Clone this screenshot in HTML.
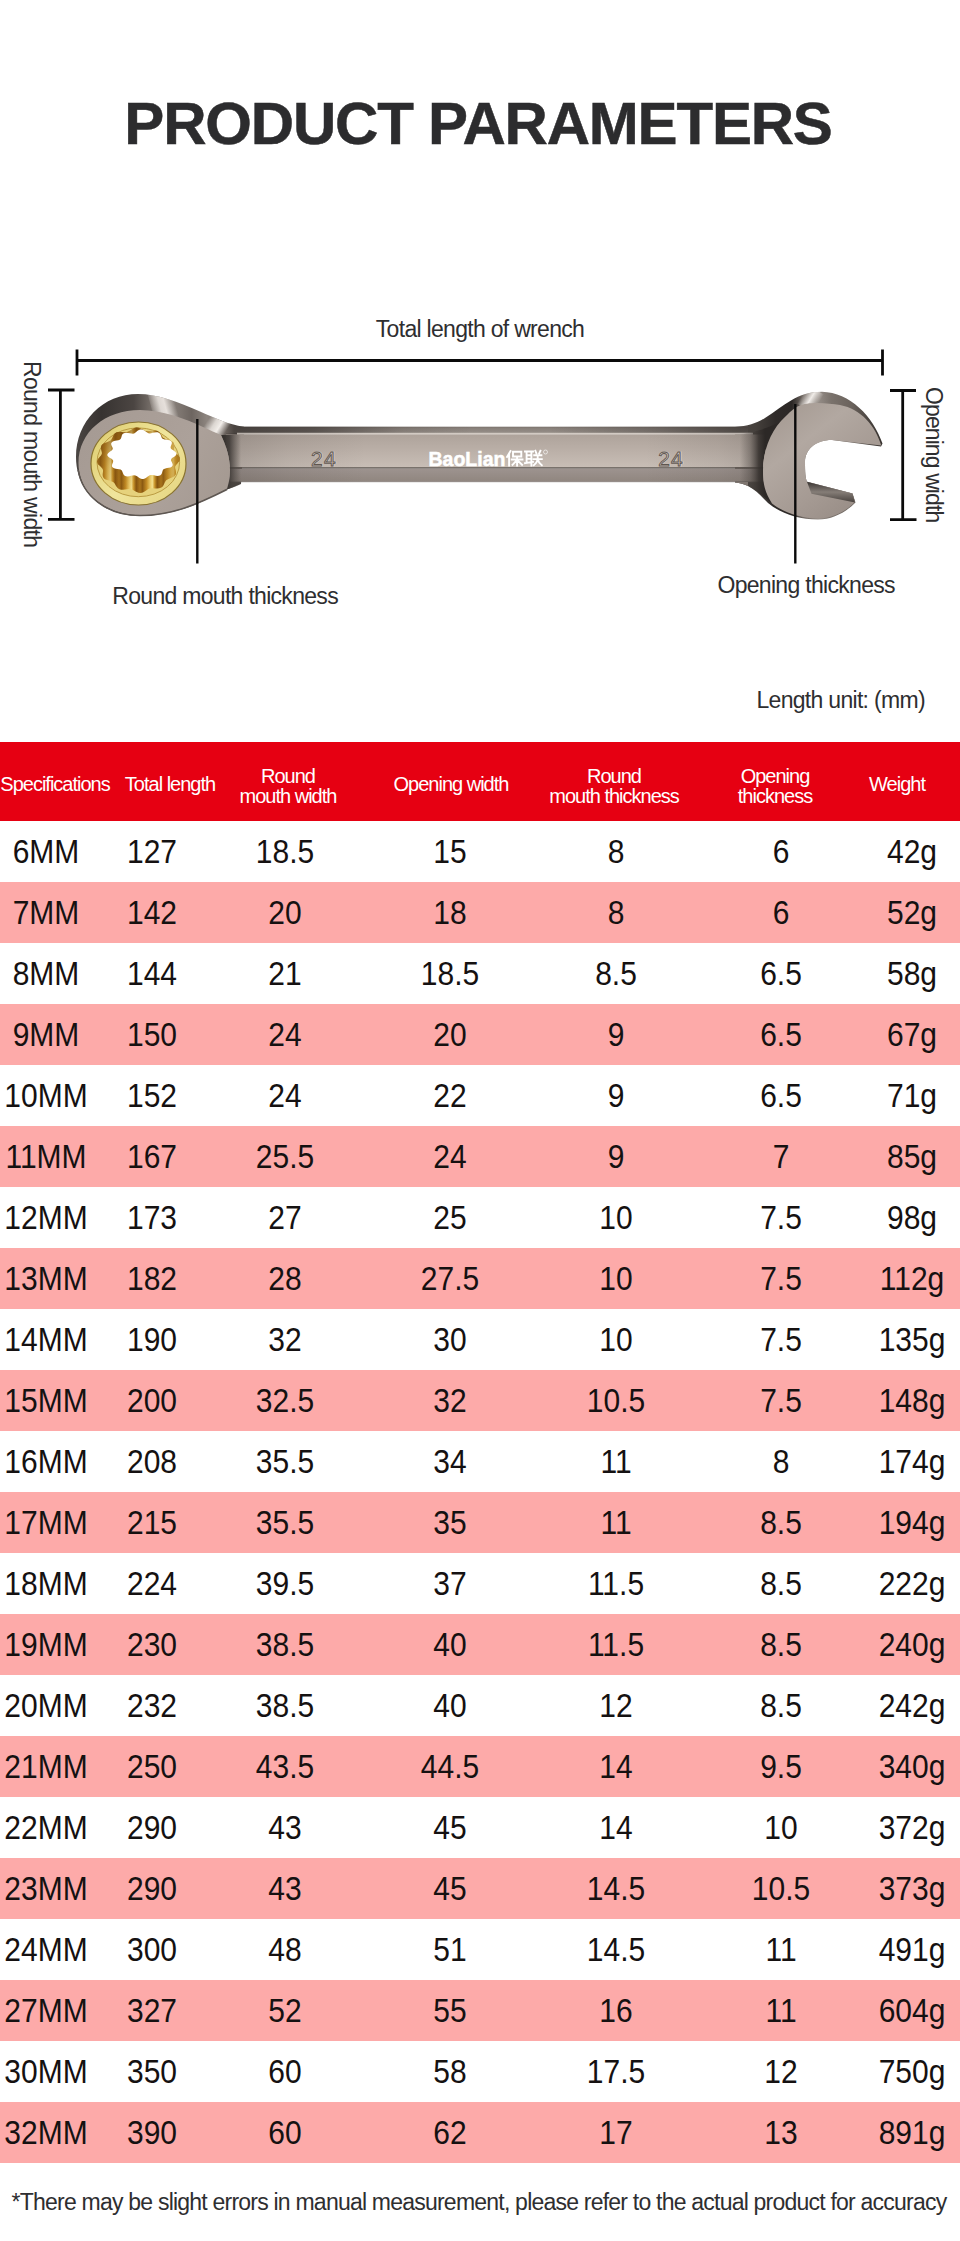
<!DOCTYPE html>
<html lang="en">
<head>
<meta charset="utf-8">
<title>Product Parameters</title>
<style>
html,body{margin:0;padding:0;background:#fff;}
body{width:960px;height:2241px;overflow:hidden;font-family:"Liberation Sans",sans-serif;color:#2b2b2d;}
#page{position:relative;width:960px;height:2241px;overflow:hidden;background:#fff;}
.title{position:absolute;left:-2px;top:89px;width:960px;margin:0;text-align:center;font-size:60px;line-height:70px;font-weight:bold;color:#2c2c2e;letter-spacing:-1.2px;white-space:nowrap;-webkit-text-stroke:0.5px #2c2c2e;}
.diagram{position:absolute;left:0;top:300px;width:960px;height:340px;}
.diagram svg{position:absolute;left:0;top:0;}
.lbl{position:absolute;font-size:23px;line-height:26px;color:#2e2e30;white-space:nowrap;letter-spacing:-0.7px;}
.l-total{left:280px;width:400px;text-align:center;top:16px;}
.l-rmt{left:112.3px;top:283px;}
.l-ot{left:717.5px;top:272px;}
.vert{transform-origin:0 0;transform:rotate(90deg);}
.l-rmw{left:45px;top:60.8px;}
.l-ow{left:946.5px;top:86.6px;letter-spacing:-0.9px;}
.l-unit{left:756.5px;top:687px;}
.tbl{position:absolute;left:0;top:742px;width:960px;}
.hd{position:relative;height:79px;background:#e60012;color:#fff;}
.h{position:absolute;top:31.5px;display:block;font-size:20px;line-height:20px;letter-spacing:-1px;text-align:center;white-space:nowrap;transform:translateX(-50%);}
.h1{left:55px}.h2{left:170px}.h3{left:288px}.h4{left:451px}.h5{left:614px}.h6{left:775px}.h7{left:897px}
.r{position:relative;height:61px;background:#fff;}
.r.p{background:#fdaaa9;}
.c{position:absolute;top:0;height:61px;line-height:61px;font-size:30px;color:#151111;text-align:center;white-space:nowrap;transform:translateX(-50%) scaleY(1.1);}
.c1{left:46px}.c2{left:152px}.c3{left:285px}.c4{left:450px}.c5{left:616px}.c6{left:781px}.c7{left:912px}
.note{position:absolute;left:-1px;top:2189px;width:960px;margin:0;text-align:center;font-size:23px;line-height:26px;color:#2e2e30;letter-spacing:-0.78px;white-space:nowrap;}
.h.two{top:23.5px;}

</style>
</head>
<body>
<div id="page">
<h1 class="title">PRODUCT PARAMETERS</h1>

<section class="diagram">
<svg width="960" height="340" viewBox="0 300 960 340">
<defs>
<linearGradient id="gFace" x1="0" y1="0" x2="0" y2="1">
<stop offset="0" stop-color="#aea39b"/><stop offset="0.5" stop-color="#bbb0a8"/><stop offset="1" stop-color="#c8beb6"/>
</linearGradient>
<linearGradient id="gBevT" x1="0" y1="0" x2="0" y2="1">
<stop offset="0" stop-color="#7a726c"/><stop offset="0.3" stop-color="#8a827c"/><stop offset="1" stop-color="#968e88"/>
</linearGradient>
<linearGradient id="gBevB" x1="0" y1="0" x2="0" y2="1">
<stop offset="0" stop-color="#9d938f"/><stop offset="1" stop-color="#90867f"/>
</linearGradient>
<linearGradient id="gEnds" gradientUnits="userSpaceOnUse" x1="235" y1="0" x2="760" y2="0">
<stop offset="0" stop-color="#2a2523" stop-opacity="0.16"/>
<stop offset="0.1" stop-color="#2a2523" stop-opacity="0.07"/>
<stop offset="0.25" stop-color="#2a2523" stop-opacity="0"/>
<stop offset="0.78" stop-color="#2a2523" stop-opacity="0"/>
<stop offset="0.92" stop-color="#2a2523" stop-opacity="0.07"/>
<stop offset="1" stop-color="#2a2523" stop-opacity="0.16"/>
</linearGradient>
<linearGradient id="gTopEnds" gradientUnits="userSpaceOnUse" x1="235" y1="0" x2="760" y2="0">
<stop offset="0" stop-color="#2a2523" stop-opacity="0.7"/>
<stop offset="0.15" stop-color="#2a2523" stop-opacity="0.55"/>
<stop offset="0.32" stop-color="#2a2523" stop-opacity="0.12"/>
<stop offset="0.45" stop-color="#2a2523" stop-opacity="0"/>
<stop offset="0.6" stop-color="#2a2523" stop-opacity="0"/>
<stop offset="0.8" stop-color="#2a2523" stop-opacity="0.3"/>
<stop offset="0.92" stop-color="#2a2523" stop-opacity="0.55"/>
<stop offset="1" stop-color="#2a2523" stop-opacity="0.7"/>
</linearGradient>
<linearGradient id="gRingSide" gradientUnits="userSpaceOnUse" x1="76" y1="0" x2="246" y2="0">
<stop offset="0" stop-color="#4b4643"/>
<stop offset="0.15" stop-color="#373331"/>
<stop offset="0.34" stop-color="#4b4542"/>
<stop offset="0.46" stop-color="#7d756f"/>
<stop offset="0.56" stop-color="#8a827c"/>
<stop offset="0.68" stop-color="#6d6560"/>
<stop offset="0.77" stop-color="#8d857f"/>
<stop offset="0.88" stop-color="#6a625d"/>
<stop offset="0.93" stop-color="#4a4440"/>
<stop offset="1" stop-color="#47413e"/>
</linearGradient>
<linearGradient id="gHl1" gradientUnits="userSpaceOnUse" x1="149.500" y1="407.500" x2="174.500" y2="400.500">
<stop offset="0" stop-color="#e0dad5" stop-opacity="0"/><stop offset="0.4" stop-color="#e2dcd7" stop-opacity="0.95"/><stop offset="0.6" stop-color="#e6e0db" stop-opacity="1"/><stop offset="1" stop-color="#e0dad5" stop-opacity="0"/>
</linearGradient>
<linearGradient id="gHl2" gradientUnits="userSpaceOnUse" x1="207.500" y1="420.200" x2="225.900" y2="431.800">
<stop offset="0" stop-color="#e6e1dc" stop-opacity="0"/><stop offset="0.35" stop-color="#e6e1dc" stop-opacity="0.9"/><stop offset="0.62" stop-color="#f2eeea" stop-opacity="1"/><stop offset="1" stop-color="#e6e1dc" stop-opacity="0"/>
</linearGradient>
<linearGradient id="gHl3" gradientUnits="userSpaceOnUse" x1="802.700" y1="394.200" x2="818.300" y2="403.800">
<stop offset="0" stop-color="#ebe6e2" stop-opacity="0"/><stop offset="0.5" stop-color="#f0ece8" stop-opacity="1"/><stop offset="1" stop-color="#ebe6e2" stop-opacity="0"/>
</linearGradient>
<clipPath id="cRing"><path d="M76,457 C76,421 103,394 138,394 C158,394 178,402 200,411.500 C215,418 228,424.500 244,426.700 L244,436 L241,484 L76,520Z"/></clipPath>
<clipPath id="cOpen"><path d="M735,427 C748,426.500 757,423 765,418 C775,411.500 783,405 791,400.500 C800,395 810,391.700 822,391.700 C850,392.500 873,416 882.500,443.500 L881,446.500 L735,446Z"/></clipPath>
<linearGradient id="gRingFace" gradientUnits="userSpaceOnUse" x1="80" y1="420" x2="230" y2="510">
<stop offset="0" stop-color="#a59a93"/><stop offset="0.6" stop-color="#aca19a"/><stop offset="1" stop-color="#a39890"/>
</linearGradient>
<linearGradient id="gCresL" gradientUnits="userSpaceOnUse" x1="223" y1="0" x2="241" y2="0">
<stop offset="0" stop-color="#34302d"/><stop offset="0.35" stop-color="#3f3a37" stop-opacity="0.92"/><stop offset="0.7" stop-color="#4a4440" stop-opacity="0.45"/><stop offset="1" stop-color="#4a4440" stop-opacity="0"/>
</linearGradient>
<linearGradient id="gCresR" gradientUnits="userSpaceOnUse" x1="740" y1="0" x2="765" y2="0">
<stop offset="0" stop-color="#4a4440" stop-opacity="0"/><stop offset="0.4" stop-color="#4a4440" stop-opacity="0.4"/><stop offset="0.75" stop-color="#37322f" stop-opacity="0.92"/><stop offset="1" stop-color="#2c2826"/>
</linearGradient>
<linearGradient id="gOpenSide" gradientUnits="userSpaceOnUse" x1="735" y1="0" x2="885" y2="0">
<stop offset="0" stop-color="#4c4642"/>
<stop offset="0.14" stop-color="#45403c"/>
<stop offset="0.27" stop-color="#2f2b29"/>
<stop offset="0.38" stop-color="#2c2826"/>
<stop offset="0.45" stop-color="#6d655f"/>
<stop offset="0.56" stop-color="#938b85"/>
<stop offset="0.64" stop-color="#7a726c"/>
<stop offset="0.78" stop-color="#6a625c"/>
<stop offset="0.9" stop-color="#47413d"/>
<stop offset="1" stop-color="#35302d"/>
</linearGradient>
<linearGradient id="gOpenFace" gradientUnits="userSpaceOnUse" x1="765" y1="410" x2="850" y2="520">
<stop offset="0" stop-color="#a39890"/><stop offset="0.35" stop-color="#b2a8a1"/><stop offset="0.7" stop-color="#a59a93"/><stop offset="1" stop-color="#978c85"/>
</linearGradient>
<linearGradient id="gGoldTop" gradientUnits="userSpaceOnUse" x1="91" y1="425" x2="186" y2="505">
<stop offset="0" stop-color="#dccb6c"/><stop offset="0.5" stop-color="#f0e59c"/><stop offset="1" stop-color="#e4d37e"/>
</linearGradient>
<linearGradient id="gTeeth" gradientUnits="userSpaceOnUse" x1="100.500" y1="0" x2="121.500" y2="0" spreadMethod="repeat">
<stop offset="0" stop-color="#8b5a12"/><stop offset="0.2" stop-color="#c48d26"/><stop offset="0.36" stop-color="#e9c765"/><stop offset="0.47" stop-color="#f4e08e"/><stop offset="0.58" stop-color="#c99429"/><stop offset="0.7" stop-color="#86540f"/><stop offset="0.88" stop-color="#a8741c"/><stop offset="1" stop-color="#8b5a12"/>
</linearGradient>
<linearGradient id="gWallV" gradientUnits="userSpaceOnUse" x1="100" y1="432" x2="135" y2="490">
<stop offset="0" stop-color="#7a4c0e" stop-opacity="0.8"/><stop offset="0.5" stop-color="#8a5a14" stop-opacity="0.25"/><stop offset="1" stop-color="#8a5a14" stop-opacity="0"/>
</linearGradient>
<linearGradient id="gWallR" gradientUnits="userSpaceOnUse" x1="160" y1="0" x2="180" y2="0">
<stop offset="0" stop-color="#a8741c" stop-opacity="0"/><stop offset="1" stop-color="#b98724" stop-opacity="0.8"/>
</linearGradient>
<linearGradient id="gJawIn" x1="0" y1="0" x2="0" y2="1">
<stop offset="0" stop-color="#393431"/><stop offset="0.5" stop-color="#857d77"/><stop offset="1" stop-color="#47413d"/>
</linearGradient>
<clipPath id="cTop"><path d="M179.6,460.2 L178.8,461.6 L177.7,462.9 L176.6,464.2 L175.6,465.4 L175.1,466.6 L175.1,467.9 L175.4,469.4 L175.8,470.9 L176.0,472.5 L175.9,474.0 L175.3,475.3 L174.1,476.4 L172.5,477.3 L170.7,478.0 L169.0,478.7 L167.4,479.4 L166.2,480.2 L165.3,481.4 L164.6,482.7 L164.0,484.2 L163.2,485.7 L162.2,486.9 L160.8,487.8 L159.1,488.3 L157.1,488.5 L155.1,488.4 L153.2,488.2 L151.4,488.2 L149.8,488.5 L148.3,489.1 L146.9,490.0 L145.4,491.0 L143.8,492.0 L142.1,492.7 L140.3,492.9 L138.5,492.7 L136.7,492.0 L135.1,491.2 L133.5,490.3 L132.0,489.5 L130.4,489.1 L128.7,489.1 L126.9,489.3 L124.9,489.6 L123.0,489.8 L121.1,489.8 L119.4,489.3 L117.9,488.3 L116.8,487.1 L115.9,485.7 L115.1,484.3 L114.3,483.0 L113.1,482.1 L111.7,481.4 L110.0,480.8 L108.1,480.3 L106.3,479.7 L104.7,478.9 L103.5,477.8 L102.9,476.4 L102.7,474.9 L102.8,473.3 L103.0,471.8 L103.1,470.4 L102.7,469.1 L101.9,467.9 L100.8,466.8 L99.5,465.6 L98.2,464.4 L97.4,463.0 L97.1,461.6 L97.4,460.2 L98.2,458.8 L99.3,457.5 L100.4,456.2 L101.4,455.0 L101.9,453.8 L101.9,452.5 L101.6,451.0 L101.2,449.5 L101.0,447.9 L101.1,446.4 L101.7,445.1 L102.9,444.0 L104.5,443.1 L106.3,442.4 L108.0,441.7 L109.6,441.0 L110.8,440.2 L111.7,439.0 L112.4,437.7 L113.0,436.2 L113.8,434.7 L114.8,433.5 L116.2,432.6 L117.9,432.1 L119.9,431.9 L121.9,432.0 L123.8,432.2 L125.6,432.2 L127.2,431.9 L128.7,431.3 L130.1,430.4 L131.6,429.4 L133.2,428.4 L134.9,427.7 L136.7,427.5 L138.5,427.7 L140.3,428.4 L141.9,429.2 L143.5,430.1 L145.0,430.9 L146.6,431.3 L148.3,431.3 L150.1,431.1 L152.1,430.8 L154.0,430.6 L155.9,430.6 L157.6,431.1 L159.1,432.1 L160.2,433.3 L161.1,434.7 L161.9,436.1 L162.7,437.4 L163.9,438.3 L165.3,439.0 L167.0,439.6 L168.9,440.1 L170.7,440.7 L172.3,441.5 L173.5,442.6 L174.1,444.0 L174.3,445.5 L174.2,447.1 L174.0,448.6 L173.9,450.0 L174.3,451.3 L175.1,452.5 L176.2,453.6 L177.5,454.8 L178.8,456.0 L179.6,457.4 L179.9,458.8Z"/></clipPath>
</defs>

<!-- silhouettes -->
<path d="M76,457 C76,421 103,394 138,394 C158,394 178,402 200,411.500 C215,418 228,424.500 244,426.700 L244,436 L241,484 C236,486 231,488 227,489.500 C215,495 205,500.500 197,504 C180,511 160,516 140,516 C103,516 76,492 76,457Z" fill="url(#gRingSide)"/>
<path d="M735,427 C748,426.500 757,423 765,418 C775,411.500 783,405 791,400.500 C800,395 810,391.700 822,391.700 C850,392.500 873,416 882.500,443.500 L881,446.500 L832,440 C815,440 805,450 805,462 C805,472 805.500,478 807,481.700 L852.500,493.500 L855.500,502.500 C846,512 833,519.500 818,519.500 C798,519.500 780,513 768,503 C762,497 756,490 748,486 C744,484 740,483 735,482.500Z" fill="url(#gOpenSide)"/>

<g clip-path="url(#cRing)">
<path d="M146,388 L176,388 L184,418 L154,418Z" fill="url(#gHl1)"/>
<path d="M214,408 L236,420 L222,442 L198,430Z" fill="url(#gHl2)"/>
</g>
<g clip-path="url(#cOpen)">
<path d="M806,384 L828,397 L816,414 L794,402Z" fill="url(#gHl3)"/>
</g>
<!-- handle -->
<g>
<rect x="240" y="426.700" width="508" height="6.500" fill="url(#gBevT)"/>
<rect x="240" y="426.700" width="508" height="6.500" fill="url(#gTopEnds)"/>
<rect x="237" y="432.800" width="516" height="2" fill="#d2cac3"/>
<rect x="226" y="434.500" width="540" height="33" fill="url(#gFace)"/>
<rect x="226" y="467.200" width="540" height="1.500" fill="#5f5752"/>
<rect x="226" y="468.700" width="540" height="13" fill="url(#gBevB)"/>
<rect x="226" y="481.300" width="540" height="0.900" fill="#7b726d" opacity="0.7"/>
<rect x="226" y="433" width="540" height="49.200" fill="url(#gEnds)"/>
</g>

<!-- ring head -->
<g>
<path d="M221,435 C226,445 230,458 230,470 C230,478 228.500,484 227,489.500 L244,483.500 L244,435Z" fill="url(#gCresL)"/>
<path d="M78.500,463 C78.500,432 105,410 140,410 C162,410 185,418.500 203,427 C210,430 216,433 221,435 C226,445 230,458 230,470 C230,478 228.500,484 227,488.500 C215,494.500 205,500 196,504 C180,511 160,515 140,515 C105,515 78.500,493 78.500,463Z" fill="url(#gRingFace)"/>
<path d="M78.200,470 C82,495 106,515.600 140,515.600 C172,515.600 198,504 227,489.500" fill="none" stroke="#5e5752" stroke-width="1.500"/>
<!-- gold insert -->
<ellipse cx="138.500" cy="463.500" rx="47.500" ry="41.500" fill="url(#gGoldTop)" stroke="#8a7430" stroke-width="1.200"/>
<ellipse cx="138.300" cy="462.300" rx="41.300" ry="34.400" fill="#e6d27c" stroke="#b4943a" stroke-width="0.900"/>
<g clip-path="url(#cTop)">
<rect x="90" y="420" width="100" height="90" fill="url(#gTeeth)"/>
<rect x="90" y="420" width="100" height="90" fill="url(#gWallV)"/>
<rect x="160" y="420" width="30" height="90" fill="url(#gWallR)"/>
</g>
<path d="M176.4,454.3 L175.7,455.4 L174.6,456.4 L173.3,457.3 L172.1,458.1 L171.3,459.0 L171.0,459.9 L171.2,460.9 L171.8,462.1 L172.4,463.4 L172.7,464.6 L172.5,465.7 L171.7,466.7 L170.4,467.4 L168.8,467.8 L167.0,468.1 L165.4,468.4 L164.1,468.9 L163.2,469.6 L162.7,470.6 L162.3,471.8 L162.0,473.1 L161.4,474.3 L160.4,475.2 L159.1,475.7 L157.5,475.9 L155.8,475.7 L154.0,475.3 L152.4,475.0 L150.9,474.9 L149.7,475.2 L148.6,475.9 L147.4,476.8 L146.2,477.8 L144.9,478.6 L143.4,479.1 L141.9,479.1 L140.4,478.6 L139.0,477.8 L137.8,476.8 L136.6,476.0 L135.4,475.4 L134.1,475.2 L132.6,475.4 L131.0,475.8 L129.3,476.2 L127.5,476.4 L126.0,476.3 L124.7,475.7 L123.7,474.8 L123.1,473.6 L122.6,472.3 L122.2,471.2 L121.6,470.2 L120.6,469.6 L119.2,469.2 L117.5,469.0 L115.7,468.7 L114.1,468.3 L112.8,467.6 L112.1,466.7 L111.9,465.5 L112.2,464.3 L112.7,463.0 L113.1,461.8 L113.2,460.8 L112.8,459.9 L111.9,459.1 L110.6,458.3 L109.2,457.4 L108.1,456.4 L107.4,455.4 L107.4,454.3 L108.1,453.2 L109.2,452.2 L110.5,451.3 L111.7,450.5 L112.5,449.6 L112.8,448.7 L112.6,447.7 L112.0,446.5 L111.4,445.2 L111.1,444.0 L111.3,442.9 L112.1,441.9 L113.4,441.2 L115.0,440.8 L116.8,440.5 L118.4,440.2 L119.7,439.7 L120.6,439.0 L121.1,438.0 L121.5,436.8 L121.8,435.5 L122.4,434.3 L123.4,433.4 L124.7,432.9 L126.3,432.7 L128.0,432.9 L129.8,433.3 L131.4,433.6 L132.9,433.7 L134.1,433.4 L135.2,432.7 L136.4,431.8 L137.6,430.8 L138.9,430.0 L140.4,429.5 L141.9,429.5 L143.4,430.0 L144.8,430.8 L146.0,431.8 L147.2,432.6 L148.4,433.2 L149.7,433.4 L151.2,433.2 L152.8,432.8 L154.5,432.4 L156.3,432.2 L157.8,432.3 L159.1,432.9 L160.1,433.8 L160.7,435.0 L161.2,436.3 L161.6,437.4 L162.2,438.4 L163.2,439.0 L164.6,439.4 L166.3,439.6 L168.1,439.9 L169.7,440.3 L171.0,441.0 L171.7,441.9 L171.9,443.1 L171.6,444.3 L171.1,445.6 L170.7,446.8 L170.6,447.8 L171.0,448.7 L171.9,449.5 L173.2,450.3 L174.6,451.2 L175.7,452.2 L176.4,453.2Z" fill="#ffffff"/>
</g>

<!-- open-end head -->
<g>
<path d="M781,421 C770,433 763,452 763,470 C763,485 765,492 772,503.500 C765,498 757,490 748,486 L740,483 L740,433.800 C750,433 755,431.500 760,430 C768,427.500 775,424.500 781,421Z" fill="url(#gCresR)"/>
<path d="M735,482 L748,482 L748,486 C744,484 740,483 735,482.500Z" fill="#7f7670"/>
<path d="M781,421 C788,414 792,409.500 797,406.700 C804,403.500 810,403 817,403 C826,403 833,404 840,405 C861,409 875.500,426 881.300,445.600 L832,440 C815,440 805,450 805,462 C805,472 805.500,478 807,481.700 L852.500,493.500 L855,502 C846,511 833,518.500 818,518.500 C800,518.500 783,512 772,503.500 C765,492 763,485 763,470 C763,452 770,433 781,421Z" fill="url(#gOpenFace)"/>
<path d="M807,481.700 L852.500,493.500 L855,502.500 L811.500,493.800Z" fill="url(#gJawIn)"/>
</g>

<!-- handle marks -->
<g font-family="Liberation Sans, sans-serif">
<text x="311.800" y="466.300" font-size="21" fill="none" stroke="#d9d1ca" stroke-width="0.800" letter-spacing="1.200">24</text>
<text x="311" y="465.500" font-size="21" fill="none" stroke="#5f5650" stroke-width="0.900" letter-spacing="1.200">24</text>
<text x="659" y="466.300" font-size="21" fill="none" stroke="#d9d1ca" stroke-width="0.800" letter-spacing="1.200">24</text>
<text x="658.200" y="465.500" font-size="21" fill="none" stroke="#5f5650" stroke-width="0.900" letter-spacing="1.200">24</text>
<text x="428.500" y="465.500" font-size="19.500" font-weight="bold" fill="#ffffff" stroke="#ffffff" stroke-width="0.500" letter-spacing="0">BaoLian</text>
</g>
<!-- CJK brand glyphs (stroked approximation) -->
<g stroke="#ffffff" stroke-width="1.900" fill="none" stroke-linecap="square" transform="translate(506.500,450.500)">
<path d="M4,0.500 L0.500,6.500 M2.600,4 V15 M6.500,1.200 H14.800 V6 H6.500Z M5.200,9 H16 M10.600,6 V15 M10.600,9.300 L6,14.300 M10.600,9.300 L15.600,14.300"/>
<path transform="translate(18.500,0)" d="M0,1 H8 M1.600,1 V12 M6.400,1 V15 M1.600,4.800 H6.400 M1.600,8.400 H6.400 M0,12.600 L8,11.400 M10.400,0.300 L11.400,2.800 M15.400,0.300 L14.200,2.800 M9.200,4.800 H16.400 M8.600,8.600 H16.800 M12.700,4.800 V8.600 C12.200,11.500 10.800,13.400 8.800,14.800 M12.900,9 C13.400,11.500 15,13.600 16.800,14.800"/>
</g>
<circle cx="545.500" cy="452" r="2" fill="none" stroke="#ffffff" stroke-width="0.600"/>

<!-- dimension lines -->
<g stroke="#0a0a0a" stroke-width="2.800" fill="none" stroke-linecap="butt">
<path d="M77,360.500 H882.500 M77,349.500 V375.500 M882.500,349.500 V375.500"/>
<path d="M60.400,390 V519.300 M48,390 H74.500 M48,519.300 H74.500"/>
<path d="M902.700,390.500 V519.700 M890,390.500 H916 M890,519.700 H916.500"/>
</g>
<g stroke="#0a0a0a" stroke-width="2.400" fill="none">
<path d="M197.300,419 V563.500 M795.300,404 V563.500"/>
</g>
</svg>
<div class="lbl l-total">Total length of wrench</div>
<div class="lbl l-rmt">Round mouth thickness</div>
<div class="lbl l-ot">Opening thickness</div>
<div class="lbl vert l-rmw">Round mouth width</div>
<div class="lbl vert l-ow">Opening width</div>
</section>

<div class="lbl l-unit">Length unit: (mm)</div>

<section class="tbl">
<div class="hd">
<span class="h h1">Specifications</span>
<span class="h h2">Total length</span>
<span class="h h3 two">Round<br>mouth width</span>
<span class="h h4">Opening width</span>
<span class="h h5 two">Round<br>mouth thickness</span>
<span class="h h6 two">Opening<br>thickness</span>
<span class="h h7">Weight</span>
</div>
<div class="r"><span class="c c1">6MM</span><span class="c c2">127</span><span class="c c3">18.5</span><span class="c c4">15</span><span class="c c5">8</span><span class="c c6">6</span><span class="c c7">42g</span></div>
<div class="r p"><span class="c c1">7MM</span><span class="c c2">142</span><span class="c c3">20</span><span class="c c4">18</span><span class="c c5">8</span><span class="c c6">6</span><span class="c c7">52g</span></div>
<div class="r"><span class="c c1">8MM</span><span class="c c2">144</span><span class="c c3">21</span><span class="c c4">18.5</span><span class="c c5">8.5</span><span class="c c6">6.5</span><span class="c c7">58g</span></div>
<div class="r p"><span class="c c1">9MM</span><span class="c c2">150</span><span class="c c3">24</span><span class="c c4">20</span><span class="c c5">9</span><span class="c c6">6.5</span><span class="c c7">67g</span></div>
<div class="r"><span class="c c1">10MM</span><span class="c c2">152</span><span class="c c3">24</span><span class="c c4">22</span><span class="c c5">9</span><span class="c c6">6.5</span><span class="c c7">71g</span></div>
<div class="r p"><span class="c c1">11MM</span><span class="c c2">167</span><span class="c c3">25.5</span><span class="c c4">24</span><span class="c c5">9</span><span class="c c6">7</span><span class="c c7">85g</span></div>
<div class="r"><span class="c c1">12MM</span><span class="c c2">173</span><span class="c c3">27</span><span class="c c4">25</span><span class="c c5">10</span><span class="c c6">7.5</span><span class="c c7">98g</span></div>
<div class="r p"><span class="c c1">13MM</span><span class="c c2">182</span><span class="c c3">28</span><span class="c c4">27.5</span><span class="c c5">10</span><span class="c c6">7.5</span><span class="c c7">112g</span></div>
<div class="r"><span class="c c1">14MM</span><span class="c c2">190</span><span class="c c3">32</span><span class="c c4">30</span><span class="c c5">10</span><span class="c c6">7.5</span><span class="c c7">135g</span></div>
<div class="r p"><span class="c c1">15MM</span><span class="c c2">200</span><span class="c c3">32.5</span><span class="c c4">32</span><span class="c c5">10.5</span><span class="c c6">7.5</span><span class="c c7">148g</span></div>
<div class="r"><span class="c c1">16MM</span><span class="c c2">208</span><span class="c c3">35.5</span><span class="c c4">34</span><span class="c c5">11</span><span class="c c6">8</span><span class="c c7">174g</span></div>
<div class="r p"><span class="c c1">17MM</span><span class="c c2">215</span><span class="c c3">35.5</span><span class="c c4">35</span><span class="c c5">11</span><span class="c c6">8.5</span><span class="c c7">194g</span></div>
<div class="r"><span class="c c1">18MM</span><span class="c c2">224</span><span class="c c3">39.5</span><span class="c c4">37</span><span class="c c5">11.5</span><span class="c c6">8.5</span><span class="c c7">222g</span></div>
<div class="r p"><span class="c c1">19MM</span><span class="c c2">230</span><span class="c c3">38.5</span><span class="c c4">40</span><span class="c c5">11.5</span><span class="c c6">8.5</span><span class="c c7">240g</span></div>
<div class="r"><span class="c c1">20MM</span><span class="c c2">232</span><span class="c c3">38.5</span><span class="c c4">40</span><span class="c c5">12</span><span class="c c6">8.5</span><span class="c c7">242g</span></div>
<div class="r p"><span class="c c1">21MM</span><span class="c c2">250</span><span class="c c3">43.5</span><span class="c c4">44.5</span><span class="c c5">14</span><span class="c c6">9.5</span><span class="c c7">340g</span></div>
<div class="r"><span class="c c1">22MM</span><span class="c c2">290</span><span class="c c3">43</span><span class="c c4">45</span><span class="c c5">14</span><span class="c c6">10</span><span class="c c7">372g</span></div>
<div class="r p"><span class="c c1">23MM</span><span class="c c2">290</span><span class="c c3">43</span><span class="c c4">45</span><span class="c c5">14.5</span><span class="c c6">10.5</span><span class="c c7">373g</span></div>
<div class="r"><span class="c c1">24MM</span><span class="c c2">300</span><span class="c c3">48</span><span class="c c4">51</span><span class="c c5">14.5</span><span class="c c6">11</span><span class="c c7">491g</span></div>
<div class="r p"><span class="c c1">27MM</span><span class="c c2">327</span><span class="c c3">52</span><span class="c c4">55</span><span class="c c5">16</span><span class="c c6">11</span><span class="c c7">604g</span></div>
<div class="r"><span class="c c1">30MM</span><span class="c c2">350</span><span class="c c3">60</span><span class="c c4">58</span><span class="c c5">17.5</span><span class="c c6">12</span><span class="c c7">750g</span></div>
<div class="r p"><span class="c c1">32MM</span><span class="c c2">390</span><span class="c c3">60</span><span class="c c4">62</span><span class="c c5">17</span><span class="c c6">13</span><span class="c c7">891g</span></div>
</section>

<p class="note">*There may be slight errors in manual measurement, please refer to the actual product for accuracy</p>
</div>
</body>
</html>
